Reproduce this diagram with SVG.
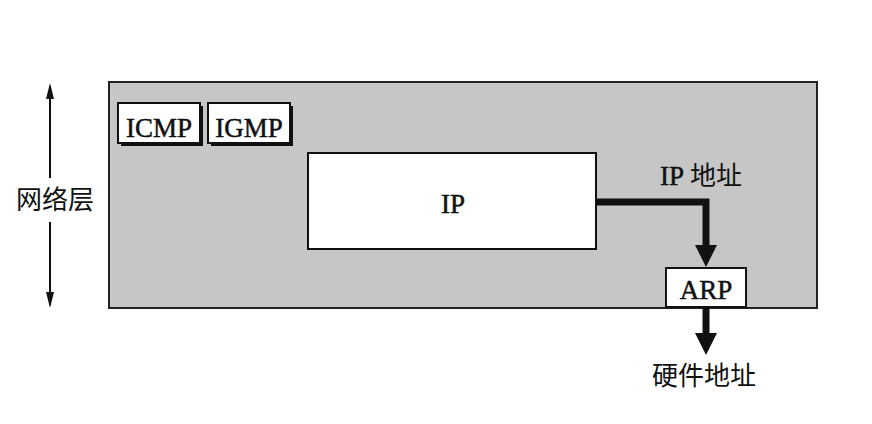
<svg xmlns="http://www.w3.org/2000/svg" width="872" height="424" viewBox="0 0 872 424">
<defs>
<style>
.box{fill:#fff;stroke:#111;stroke-width:2}
.shadow{fill:#111}
.lat{font-family:"Liberation Serif","Times New Roman",serif;font-size:27px;fill:#111;stroke:#111;stroke-width:0.5;text-anchor:middle}
.cjk{font-family:"Noto Sans CJK SC","Liberation Sans",sans-serif;font-size:26px;fill:#111}
.thick{fill:none;stroke:#111;stroke-width:7}
.thin{stroke:#111;stroke-width:2}
</style>
<marker id="big" viewBox="0 0 22 22" markerWidth="22" markerHeight="22" refX="5" refY="11" orient="auto" markerUnits="userSpaceOnUse">
<path d="M0,0 L22,11 L0,22 Z" fill="#111"/>
</marker>
<marker id="small" viewBox="0 0 16 8" markerWidth="16" markerHeight="8" refX="13" refY="4" orient="auto-start-reverse" markerUnits="userSpaceOnUse">
<path d="M0,0 L16,4 L0,8 Z" fill="#111"/>
</marker>
</defs>
<rect width="872" height="424" fill="#fff"/>
<g id="layer">
<rect x="109" y="82" width="708" height="226" fill="#c6c6c6" stroke="#222" stroke-width="2"/>
</g>
<g id="side-label">
<line class="thin" x1="50" y1="86" x2="50" y2="178" marker-start="url(#small)"/>
<line class="thin" x1="50" y1="222" x2="50" y2="305" marker-end="url(#small)"/>
<text class="cjk" x="55" y="209" text-anchor="middle">网络层</text>
</g>
<g id="icmp">
<rect class="shadow" x="121" y="106" width="82" height="40"/>
<rect class="box" x="118" y="103" width="82" height="40"/>
<text class="lat" x="159" y="137">ICMP</text>
</g>
<g id="igmp">
<rect class="shadow" x="211" y="106" width="82" height="40"/>
<rect class="box" x="208" y="103" width="82" height="40"/>
<text class="lat" x="249" y="137">IGMP</text>
</g>
<g id="ip">
<rect class="box" x="308" y="153" width="288" height="96"/>
<text class="lat" x="453" y="213">IP</text>
</g>
<g id="arp">
<rect class="box" x="666" y="268" width="80" height="39"/>
<text class="lat" x="706" y="299">ARP</text>
</g>
<g id="connectors">
<path class="thick" d="M596,202 H706 V250" marker-end="url(#big)"/>
<line class="thick" x1="706" y1="308" x2="706" y2="338" marker-end="url(#big)"/>
</g>
<g id="labels">
<text class="lat" x="660" y="185" style="text-anchor:start">IP</text>
<text class="cjk" x="690" y="185">地址</text>
<text class="cjk" x="652" y="385">硬件地址</text>
</g>
</svg>
